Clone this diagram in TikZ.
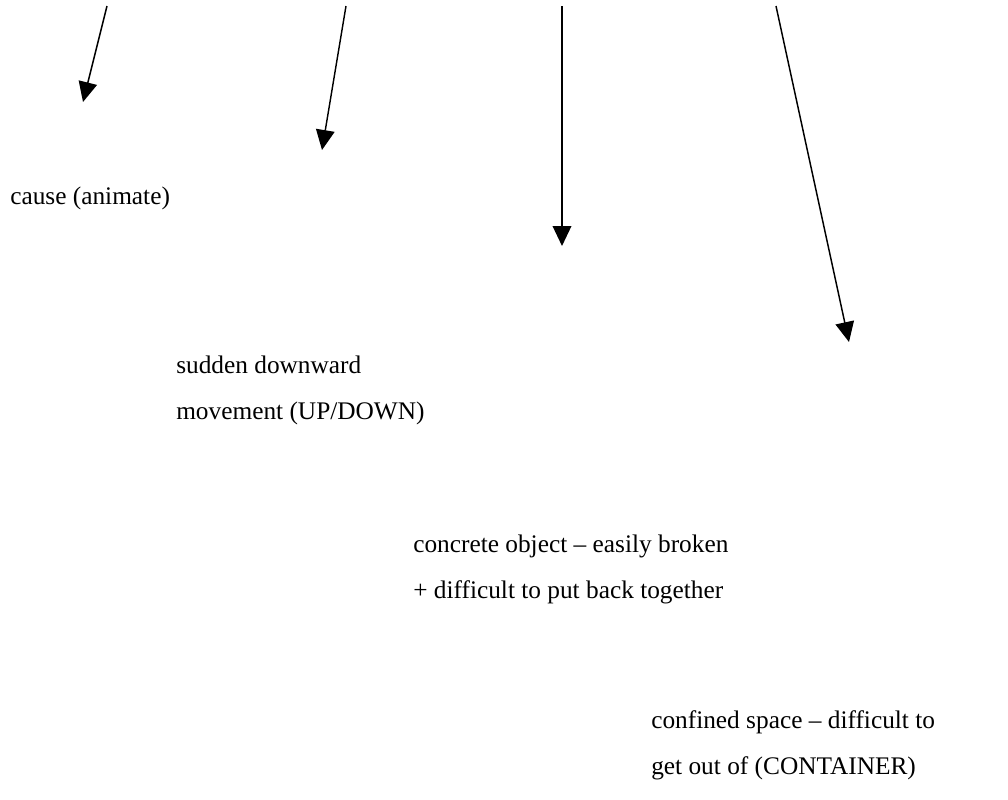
\documentclass[tikz,border=0pt]{standalone}
\usepackage{fontspec}
\setmainfont{Liberation Serif}
\usetikzlibrary{arrows.meta}
\begin{document}
\begin{tikzpicture}[x=0.75pt,y=-0.75pt,>={Triangle[length=15pt,width=14pt]},
  lbl/.style={anchor=base west,inner sep=0pt,font=\fontsize{19}{22}\selectfont}]
\useasboundingbox (0,0) rectangle (1008,800);
%Mui ten
\coordinate (s1) at (107,6);   \coordinate (e1) at (83,102);
\coordinate (s2) at (346,6);   \coordinate (e2) at (322,150);
\coordinate (s3) at (562,6);   \coordinate (e3) at (562,246);
\coordinate (s4) at (776,6);   \coordinate (e4) at (849,342);
\draw [->,line width=1.1pt] (s1)--(e1);
\draw [->,line width=1.1pt] (s2)--(e2);
\draw [->,line width=1.1pt] (s3)--(e3);
\draw [->,line width=1.1pt] (s4)--(e4);
%Nhan 1
\node[lbl] (cause) at (10,204) {cause (animate)};
%Nhan 2
\node[lbl] (sud) at (176,373) {sudden downward};
\node[lbl] (mov) at (176,419) {movement (UP/DOWN)};
%Nhan 3
\node[lbl] (conc) at (413,552) {concrete object -- easily broken};
\node[lbl] (diff) at (413,598) {+ difficult to put back together};
%Nhan 4
\node[lbl] (conf) at (651,728) {confined space -- difficult to};
\node[lbl] (get) at (651,774) {get out of (CONTAINER)};
\end{tikzpicture}
\end{document}
